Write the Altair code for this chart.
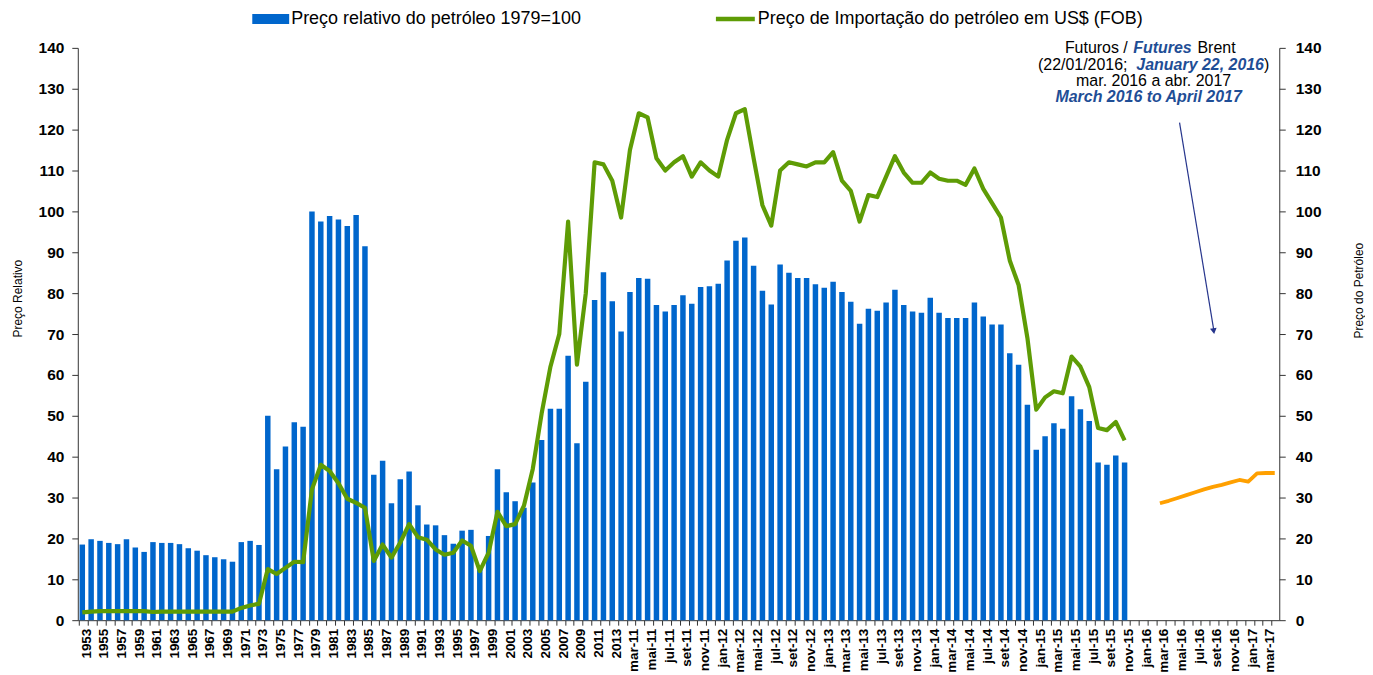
import altair as alt
import pandas as pd

FONT = "Liberation Sans, Arial, sans-serif"

# ---------------- categories ----------------
years = list(range(1953, 2015))
month_abbr = ["jan", "fev", "mar", "abr", "mai", "jun", "jul", "ago", "set", "out", "nov", "dez"]
monthly_labels = []
for yr in range(2011, 2018):
    for mi, m in enumerate(month_abbr):
        if (yr == 2011 and mi < 2) or (yr == 2017 and mi > 3):
            continue
        monthly_labels.append(f"{m}-{yr % 100:02d}")
categories = [str(y) for y in years] + monthly_labels  # 136 categories

# ---------------- relative price (bars) ----------------
bar_annual = [18.5, 19.8, 19.4, 18.9, 18.6, 19.8, 17.8, 16.7, 19.1, 18.9,
              18.9, 18.6, 17.6, 17.0, 15.9, 15.4, 14.9, 14.3, 19.1, 19.4,
              18.4, 50.0, 36.9, 42.5, 48.4, 47.3, 100.0, 97.5, 98.9, 98.0,
              96.4, 99.1, 91.5, 35.6, 39.0, 28.6, 34.5, 36.4, 28.1, 23.4,
              23.2, 20.8, 18.7, 21.9, 22.1, 13.0, 20.6, 36.9, 31.3, 29.1,
              27.5, 33.7, 44.1, 51.7, 51.7, 64.7, 43.3, 58.3, 78.3, 85.1,
              78.0, 70.6]
bar_2011 = [80.3, 83.7, 83.5, 77.1, 75.5, 77.1, 79.5, 77.4, 81.5, 81.7]
bar_2012 = [82.3, 88.0, 92.8, 93.6, 86.7, 80.6, 77.2, 87.0, 85.0, 83.7, 83.7, 82.2]
bar_2013 = [81.3, 82.8, 80.3, 77.9, 72.5, 76.2, 75.7, 77.7, 80.8, 77.1, 75.5, 75.2]
bar_2014 = [78.9, 75.2, 73.9, 73.9, 73.9, 77.7, 74.3, 72.3, 72.3, 65.3, 62.5, 52.7]
bar_2015 = [41.7, 45.0, 48.2, 46.8, 54.8, 51.6, 48.7, 38.6, 38.0, 40.3, 38.6]

# ---------------- import price US$ (line) ----------------
line_annual = [1.9, 2.1, 2.2, 2.2, 2.2, 2.2, 2.2, 2.2, 2.0, 2.1,
               2.1, 2.1, 2.1, 2.1, 2.1, 2.1, 2.1, 2.1, 3.0, 3.6,
               4.0, 12.5, 11.3, 12.8, 14.3, 14.2, 32.0, 38.0, 36.5, 33.5,
               29.7, 28.7, 27.5, 14.5, 18.5, 15.3, 19.0, 23.5, 20.3, 19.7,
               17.3, 16.0, 16.5, 19.5, 18.2, 12.0, 16.5, 26.5, 23.0, 23.5,
               28.0, 37.0, 50.5, 62.0, 70.0, 97.5, 62.5, 80.0, 112.0, 111.5,
               107.5, 98.5]
line_2011 = [115, 124, 123, 113, 110, 112, 113.5, 108.5, 112, 110]
line_2012 = [108.5, 117.5, 124, 125, 113, 101.5, 96.5, 110, 112, 111.5, 111, 112]
line_2013 = [112, 114.5, 107.5, 105, 97.5, 104, 103.5, 108.5, 113.5, 109.5, 107, 107]
line_2014 = [109.5, 108, 107.5, 107.5, 106.5, 110.5, 105.5, 102, 98.5, 88, 82, 69]
line_2015 = [51.5, 54.5, 56, 55.5, 64.5, 62, 57, 47, 46.5, 48.5, 44]

# ---------------- Brent futures mar-16 .. abr-17 ----------------
futures = [28.6, 29.2, 29.9, 30.6, 31.3, 32.0, 32.6, 33.1, 33.7, 34.3, 33.9, 35.9, 36.0, 36.0]
futures_start = "mar-16"

bar_vals = bar_annual + bar_2011 + bar_2012 + bar_2013 + bar_2014 + bar_2015
line_vals = line_annual + line_2011 + line_2012 + line_2013 + line_2014 + line_2015
n = len(categories)
fs = categories.index(futures_start)
df = pd.DataFrame({
    "idx": list(range(n)),
    "cat": categories,
    "bar": bar_vals + [None] * (n - len(bar_vals)),
    "line": line_vals + [None] * (n - len(line_vals)),
    "fut": [None] * fs + futures + [None] * (n - fs - len(futures)),
})

W, H = 1205, 574
step = W / n
label_array = "[" + ",".join("'%s'" % c for c in categories) + "]"

x_enc = alt.X(
    "idx:O",
    scale=alt.Scale(domain=list(range(n)), paddingInner=0.38, paddingOuter=0.2),
    axis=alt.Axis(
        title=None,
        labelExpr=f"datum.value % 2 == 0 ? {label_array}[datum.value] : ''",
        labelAngle=270, labelFont=FONT, labelFontSize=13.5, labelFontWeight="bold",
        labelColor="#000000", bandPosition=0, labelOffset=step / 2,
        tickSize=5, tickColor="#333333", domainColor="#333333", labelPadding=3,
    ),
)

yticks = list(range(0, 141, 10))

bars = alt.Chart(df).transform_filter("isValid(datum.bar)").mark_bar(color="#0066CC").encode(
    x=x_enc,
    y=alt.Y("bar:Q", scale=alt.Scale(domain=[0, 140], nice=False),
            axis=alt.Axis(title="Preço Relativo", values=yticks, orient="left",
                          labelFont=FONT, labelFontSize=15.5, labelFontWeight="bold",
                          labelColor="#000000", tickSize=6, labelPadding=8,
                          tickColor="#333333", domainColor="#333333",
                          titleFont=FONT, titleFontSize=12, titleFontWeight="normal",
                          titleColor="#000000", titleX=-60, titleY=251, titleAngle=270,
                          titleAlign="center", titleBaseline="middle")),
)

line = alt.Chart(df).transform_filter("isValid(datum.line)").mark_line(
    color="#5E9C05", strokeWidth=4.2, strokeJoin="round").encode(
    x=x_enc,
    y=alt.Y("line:Q", scale=alt.Scale(domain=[0, 140], nice=False),
            axis=alt.Axis(title="Preço do Petróleo", values=yticks, orient="right",
                          labelFont=FONT, labelFontSize=15.5, labelFontWeight="bold",
                          labelColor="#000000", tickSize=6, labelPadding=10,
                          tickColor="#333333", domainColor="#333333",
                          titleFont=FONT, titleFontSize=12, titleFontWeight="normal",
                          titleColor="#000000", titleX=79, titleY=243, titleAngle=270,
                          titleAlign="center", titleBaseline="middle")),
)

fut = alt.Chart(df).transform_filter("isValid(datum.fut)").mark_line(
    color="#FFA000", strokeWidth=3.8, strokeJoin="round").encode(
    x=x_enc,
    y=alt.Y("fut:Q", scale=alt.Scale(domain=[0, 140], nice=False), axis=None),
)

one = alt.Data(values=[{"k": 1}])
BLUE_TXT = "#1F4E96"
ARROW = "#26358C"

def txt(s, x, y, align="left", weight="normal", style="normal", color="#000000", size=16):
    return alt.Chart(one).mark_text(text=s, align=align, baseline="middle", font=FONT,
                                    fontSize=size, fontWeight=weight, fontStyle=style,
                                    color=color).encode(x=alt.value(x), y=alt.value(y))

# legend (custom, above the plot)
leg_rect = alt.Chart(one).mark_rect(color="#0066CC").encode(
    x=alt.value(175), x2=alt.value(212), y=alt.value(-34), y2=alt.value(-24))
leg_line = alt.Chart(one).mark_rule(color="#5E9C05", strokeWidth=4.5).encode(
    x=alt.value(640), x2=alt.value(679), y=alt.value(-29))
leg_t1 = txt("Preço relativo do petróleo 1979=100", 214, -28.5, size=18)
leg_t2 = txt("Preço de Importação do petróleo em US$ (FOB)", 682, -28.5, size=18)

# futures annotation
ox = 78
a1 = txt("Futuros /", 1068 - ox, 0)
a2 = txt("Futures", 1136.5 - ox, 0, weight="bold", style="italic", color=BLUE_TXT)
a3 = txt("Brent", 1201 - ox, 0)
b1 = txt("(22/01/2016;", 1041 - ox, 17)
b2 = txt("January 22, 2016", 1139.7 - ox, 17, weight="bold", style="italic", color=BLUE_TXT)
b3 = txt(")", 1267.8 - ox, 17)
c1 = txt("mar. 2016 a abr. 2017", 1157 - ox, 33, align="center")
d1 = txt("March 2016 to April 2017", 1152 - ox, 49, align="center", weight="bold",
         style="italic", color=BLUE_TXT)

arrow_line = alt.Chart(one).mark_rule(color=ARROW, strokeWidth=1.2).encode(
    x=alt.value(1105), y=alt.value(75), x2=alt.value(1139.5), y2=alt.value(284))
arrow_head = alt.Chart(one).mark_point(shape="triangle-down", filled=True, size=45,
                                       angle=351, color=ARROW, opacity=1).encode(
    x=alt.value(1139.3), y=alt.value(284))

chart = alt.layer(
    bars, line, fut,
    leg_rect, leg_line, leg_t1, leg_t2,
    a1, a2, a3, b1, b2, b3, c1, d1, arrow_line, arrow_head,
).resolve_scale(y="independent").properties(
    width=W, height=H,
    autosize=alt.AutoSizeParams(type="none"),
    padding={"left": 70, "top": 39, "right": 86, "bottom": 54},
    background="white",
).configure_view(stroke=None).configure_axis(grid=False)

chart.save("out.html", embed_options={"renderer": "svg", "actions": False})
